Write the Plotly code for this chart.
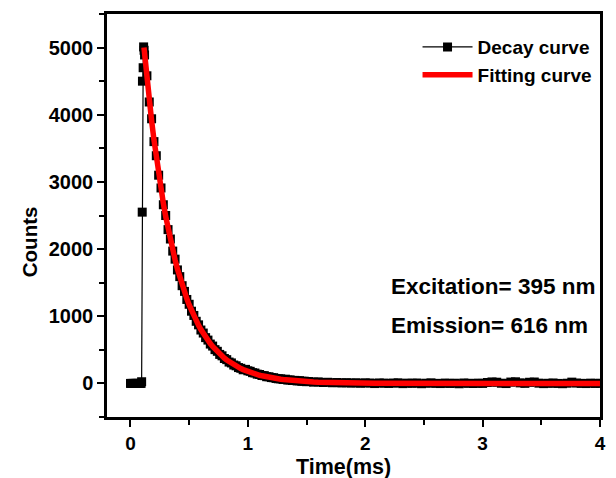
import numpy as np
import plotly.graph_objects as go

# ---- data ----
head_t = [0.00, 0.01, 0.02, 0.03, 0.04, 0.05, 0.06, 0.07, 0.08, 0.09,
          0.095, 0.100, 0.102, 0.108, 0.112, 0.116]
head_y = [0, 0, 0, 0, 0, 0, 0, 0, 0, 0,
          25, 2550, 4500, 4700, 5010, 4960]

body_t = list(np.round(np.arange(0.12, 1.5001, 0.02), 2))
tail_t = list(np.round(np.arange(1.52, 4.0001, 0.04), 2))

decay_body = [4890, 4580, 4190, 3940, 3600, 3390, 3100, 2910, 2660, 2500,
              2290, 2150, 1970, 1850, 1690, 1590, 1455, 1370, 1250, 1178,
              1075, 1012, 925, 872, 795, 750, 682, 645, 586, 556,
              503, 478, 432, 411, 371, 354, 318, 305, 274, 262,
              236, 225, 203, 209, 188, 180, 160, 155, 138, 133,
              118, 116, 100, 99, 87, 85, 74, 69, 68, 59,
              63, 50, 52, 44, 45, 37, 40, 32, 33, 26]
decay_tail = [28, 19, 23, 14, 17, 10, 13, 7, 11, 5, 9, 3, 8, 6, -2, 7, 4, 0, 5, 9,
              -3, 4, 2, 6, -4, 3, 8, 1, -2, 5,
              0, 3, -5, 6, 2, -1, 4, 0, 14, 22,
              18, 3, -2, 20, 24, 8, 1, 17, 21, 4,
              -3, 2, 6, 0, -4, 3, 19, 5, 1, -2,
              4, 0, 2]

fit_start_t = [0.115]
fit_start_y = [5000]
fit_body = [4906, 4549, 4219, 3912, 3628, 3364, 3119, 2893, 2682, 2487,
            2307, 2139, 1983, 1839, 1705, 1581, 1466, 1360, 1261, 1169,
            1084, 1005, 932, 865, 802, 743, 689, 639, 593, 550,
            510, 473, 438, 406, 377, 349, 324, 300, 279, 258,
            240, 222, 206, 191, 177, 164, 152, 141, 131, 121,
            113, 104, 97, 90, 83, 77, 72, 66, 62, 57,
            53, 49, 46, 42, 39, 36, 34, 31, 29, 27]
fit_tail = [25, 22, 19, 16, 14, 12, 10, 9, 8, 7, 6, 5, 4, 4, 3, 3, 2, 2, 2, 2, 1,
            1, 1, 1, 1, 1, 1, 1, 1,
            0, 0, 0, 0, 0, 0, 0, 0, 0, 0, 0, 0, 0, 0, 0, 0, 0, 0, 0, 0,
            0, 0, 0, 0, 0, 0, 0, 0, 0, 0, 0, 0, 0, 0]

x_ticks = [0, 1, 2, 3, 4]
y_ticks = [0, 1000, 2000, 3000, 4000, 5000]

assert len(body_t) == len(decay_body) == len(fit_body)
assert len(tail_t) == len(decay_tail) == len(fit_tail)

decay_t = head_t + body_t + tail_t
decay_y = head_y + decay_body + decay_tail
fit_t = fit_start_t + body_t + tail_t
fit_y = fit_start_y + fit_body + fit_tail

FONT = "Arial, Liberation Sans, sans-serif"

fig = go.Figure()
fig.add_trace(go.Scatter(
    x=decay_t, y=decay_y, mode="lines+markers", name="Decay curve",
    line=dict(color="black", width=1.2),
    marker=dict(symbol="square", size=9, color="black"),
))
fig.add_trace(go.Scatter(
    x=fit_t, y=fit_y, mode="lines", name="Fitting curve",
    line=dict(color="#ff0000", width=5.5),
))

axis_common = dict(
    showline=True, linecolor="black", linewidth=2.5, mirror=True,
    ticks="outside", ticklen=7, tickwidth=2, tickcolor="black",
    showgrid=False, zeroline=False,
)

fig.update_xaxes(
    range=[-0.2, 4.0], tickvals=x_ticks,
    tickfont=dict(family=FONT, size=19, color="black", weight="bold"),
    minor=dict(ticks="outside", dtick=0.5, tick0=0, ticklen=5, tickwidth=2, tickcolor="black"),
    **axis_common,
)
fig.update_yaxes(
    range=[-500, 5500], tickvals=y_ticks,
    tickfont=dict(family=FONT, size=20, color="black", weight="bold"),
    minor=dict(ticks="outside", dtick=500, tick0=0, ticklen=5, tickwidth=2, tickcolor="black"),
    **axis_common,
)

fig.add_annotation(text="Time(ms)", xref="paper", yref="paper", x=0.48, y=-0.124,
                   xanchor="center", yanchor="middle", showarrow=False,
                   font=dict(family=FONT, size=21.5, color="black", weight="bold"))
fig.add_annotation(text="Counts", xref="paper", yref="paper", x=-0.158, y=0.434,
                   xanchor="center", yanchor="middle", showarrow=False, textangle=-90,
                   font=dict(family=FONT, size=20.5, color="black", weight="bold"))
fig.add_annotation(text="Excitation= 395 nm", xref="paper", yref="paper", x=0.571, y=0.3226,
                   xanchor="left", yanchor="middle", showarrow=False,
                   font=dict(family=FONT, size=22.5, color="black", weight="bold"))
fig.add_annotation(text="Emission= 616 nm", xref="paper", yref="paper", x=0.571, y=0.228,
                   xanchor="left", yanchor="middle", showarrow=False,
                   font=dict(family=FONT, size=22.5, color="black", weight="bold"))

fig.update_layout(
    width=616, height=478,
    margin=dict(l=107, r=10, t=14, b=61),
    paper_bgcolor="white", plot_bgcolor="white",
    showlegend=True,
    legend=dict(x=0.995, y=0.965, xanchor="right", yanchor="top",
                bgcolor="rgba(0,0,0,0)", itemwidth=50,
                font=dict(family=FONT, size=19, color="black", weight="bold"),
                tracegroupgap=0),
)

fig.write_html("out.html")
